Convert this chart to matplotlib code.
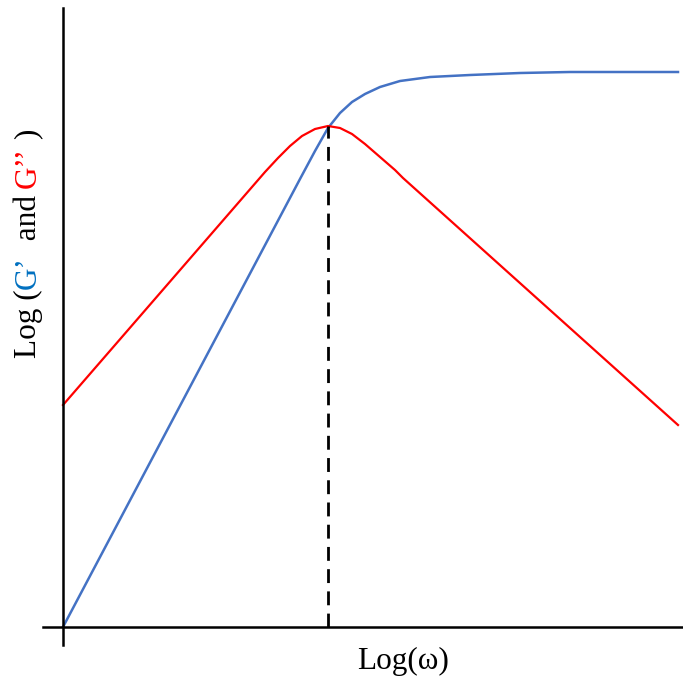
import matplotlib
matplotlib.use("Agg")
import matplotlib.pyplot as plt
from matplotlib.transforms import IdentityTransform

plt.rcParams['font.family'] = ['Liberation Serif', 'DejaVu Serif']

# curves (x = log w, y = log G), arbitrary units
g1_x = [0, 237, 252, 265, 277, 289, 302, 317, 337, 367, 407, 457, 507, 615]
g1_y = [0, 448, 476, 499, 514, 525, 533, 540, 546, 550, 552, 554, 555, 555]
g2_x = [0, 202, 215, 227, 239, 252, 265, 277, 289, 302, 317, 332, 340, 615]
g2_y = [222, 455, 469, 481, 491, 498, 501, 499, 493, 483, 470, 457, 449, 202]
cross_x = 265
cross_y = 501

label_parts = [("Log (", "black"), ("G\u2019", "#0070C0"), ("  and ", "black"),
               ("G\u2019\u2019", "#FF0000"), (" )", "black")]

fig = plt.figure(figsize=(6.83, 6.81), dpi=100)
ax = fig.add_axes([43 / 683, 36 / 681, 640 / 683, 637 / 681])
ax.set_xlim(-20, 620)
ax.set_ylim(-18, 619)

ax.plot(g1_x, g1_y, color="#4472C4", lw=1.8, solid_joinstyle="round")
ax.plot(g2_x, g2_y, color="#FF0000", lw=1.6, solid_joinstyle="round")
ax.plot([cross_x, cross_x], [0, cross_y], color="black", lw=2,
        linestyle=(0, (5, 3)))

for s in ["top", "right"]:
    ax.spines[s].set_visible(False)
for s in ["left", "bottom"]:
    ax.spines[s].set_position(("data", 0))
    ax.spines[s].set_linewidth(1.8)
ax.spines["left"].set_bounds(-18, 619)
ax.spines["bottom"].set_bounds(-20, 620)
ax.set_xticks([])
ax.set_yticks([])

fs = 22.5
fig.text(403 / 683, 1 - 661 / 681, "Log(\u03c9)", ha="center", va="center",
         fontsize=fs)

# multicoloured rotated y label
fig.canvas.draw()
r = fig.canvas.get_renderer()

def adv(s):
    t = fig.text(0, 0, s + "x", fontsize=fs)
    t2 = fig.text(0, 0, "x", fontsize=fs)
    w = t.get_window_extent(r).width - t2.get_window_extent(r).width
    t.remove()
    t2.remove()
    return w

pos = 323
for s, c in label_parts:
    fig.text(28.5, pos, s, color=c, fontsize=fs, rotation=90, ha="center",
             va="bottom", transform=IdentityTransform())
    pos += adv(s)

fig.savefig("out.png", dpi=100)
